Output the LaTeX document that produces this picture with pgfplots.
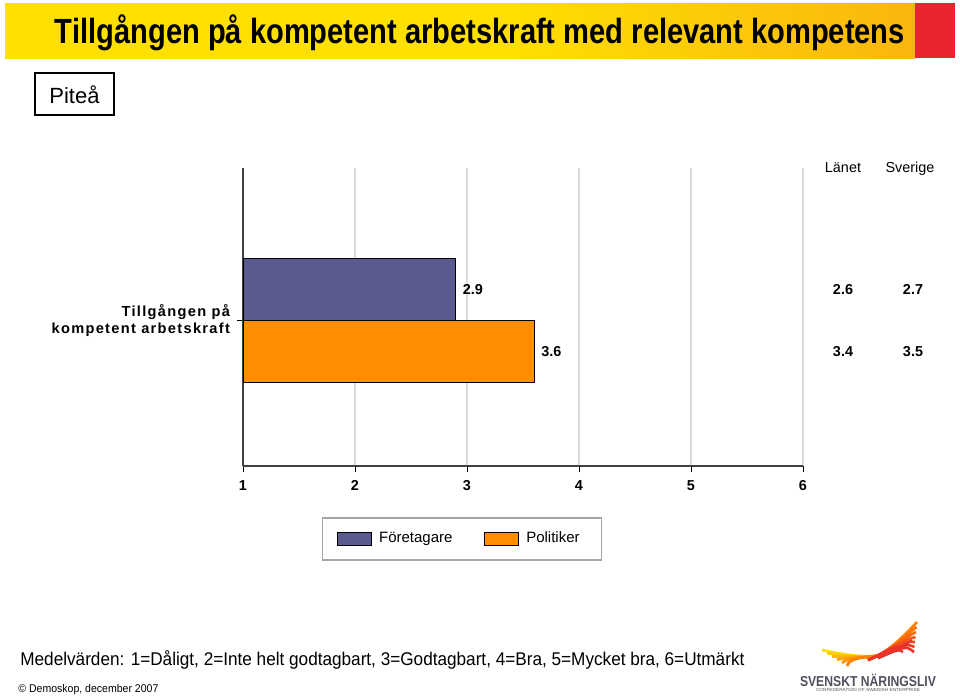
\documentclass[border=0pt]{standalone}
\usepackage{fontspec}
\setmainfont{Liberation Sans}
\newfontfamily\spaced[LetterSpace=9]{Liberation Sans}
\usepackage{graphicx}
\usepackage{pgfplots}
\pgfplotsset{compat=1.18}
\definecolor{fore}{HTML}{5B5A8E}
\definecolor{pol}{HTML}{FF8F00}
\definecolor{ylw}{HTML}{FFE000}
\definecolor{orn}{HTML}{F07A22}
\definecolor{rd}{HTML}{E82430}
\definecolor{axdark}{HTML}{404040}
\definecolor{logogrey}{HTML}{4E505E}
\pgfdeclarehorizontalshading{titlebar}{100bp}{color(0bp)=(ylw); color(52bp)=(ylw); color(72bp)=(ylw!65!orn); color(100bp)=(orn)}
\tikzset{val/.style={anchor=base, inner sep=0pt, font=\fontsize{7.2}{8}\selectfont\bfseries}}
\begin{document}
\begin{tikzpicture}
\useasboundingbox (0,0) rectangle (480pt,-349pt);
\begin{scope}[x=0.5pt,y=-0.5pt]
  % title bar
  \shade[shading=titlebar] (5,3) rectangle (915,58);
  \fill[rd] (915,3) rectangle (955,58);
  \node at (480,33) {\resizebox{425pt}{\height}{\fontsize{17.5}{20}\selectfont\bfseries Tillgången på kompetent arbetskraft med relevant kompetens}};
  % Pitea box
  \draw[line width=0.7pt] (35,73) rectangle (114,115);
  \node at (74.5,95) {\fontsize{11}{13}\selectfont Piteå};
\end{scope}
\begin{axis}[
  at={(121.5pt,-233pt)}, anchor=south west,
  scale only axis, width=280pt, height=149pt,
  xmin=1, xmax=6, ymin=-146, ymax=152,
  axis x line*=bottom, axis y line*=left,
  axis line style={-, draw=axdark, line width=1pt},
  xtick={1,2,3,4,5,6},
  ytick={0},
  yticklabels={{Tillgången på\\kompetent arbetskraft}},
  yticklabel style={align=right, font=\spaced\bfseries\fontsize{7.3}{8.5}\selectfont},
  xticklabel style={font=\bfseries\fontsize{7.2}{8}\selectfont, text height=5.3pt, text depth=0pt, yshift=-0.5pt},
  /pgf/number format/assume math mode=true,
  tick align=outside,
  major tick length=3pt,
  tick style={draw=black, line width=0.5pt},
  xmajorgrids, grid style={draw=gray!30, line width=0.6pt},
  legend style={at={(0.391,-0.245)}, anchor=center, draw=gray!70, line width=0.6pt,
    legend columns=2, font=\fontsize{7.5}{8.5}\selectfont,
    inner xsep=7.5pt, inner ysep=5pt,
    nodes={inner xsep=3.5pt},
    /tikz/every even column/.append style={column sep=12.5pt}},
  legend image code/.code={\draw[#1, draw=black, line width=0.4pt] (0pt,-3.25pt) rectangle (17pt,3.25pt);},
  nodes near coords,
  point meta=explicit symbolic,
  every node near coord/.append style={font=\bfseries\fontsize{7.2}{8}\selectfont, anchor=west, text height=5.3pt, text depth=0pt},
]
\addplot[xbar, bar width=62, bar shift=31, fill=fore, draw=black, line width=0.5pt,
  every node near coord/.append style={yshift=15.5pt}]
  coordinates {(2.9,0) [2.9]};
\addlegendentry{Företagare}
\addplot[xbar, bar width=62, bar shift=-31, fill=pol, draw=black, line width=0.5pt,
  every node near coord/.append style={yshift=-15.5pt}]
  coordinates {(3.6,0) [3.6]};
\addlegendentry{Politiker}
\end{axis}
\begin{scope}[x=0.5pt,y=-0.5pt]
  \node[anchor=base, inner sep=0pt] at (843,172) {\fontsize{7.2}{8}\selectfont Länet};
  \node[anchor=base, inner sep=0pt] at (910,172) {\fontsize{7.2}{8}\selectfont Sverige};
  \node[val] at (843,294) {2.6};
  \node[val] at (913,294) {2.7};
  \node[val] at (843,356) {3.4};
  \node[val] at (913,356) {3.5};
  % footer text
  \node[anchor=west, inner sep=0pt] at (20,660) {\resizebox{362pt}{\height}{\fontsize{9.2}{11}\selectfont Medelvärden: 1=Dåligt, 2=Inte helt godtagbart, 3=Godtagbart, 4=Bra, 5=Mycket bra, 6=Utmärkt}};
  \node[anchor=west, inner sep=0pt] at (18,690) {\resizebox{70pt}{\height}{\fontsize{5.6}{7}\selectfont © Demoskop, december 2007}};
  % logo wings
  \foreach \i in {0,...,5} {
    \pgfmathsetmacro{\c}{\i*20}
    \draw[line width=1.4pt, color=orange!\c!ylw] (822+\i*5,650+\i*3.2) .. controls (850,656) and (868,658) .. (882,655);
  }
  \foreach \i in {0,...,6} {
    \pgfmathsetmacro{\c}{\i*14}
    \draw[line width=1.3pt, color=rd!\c!orange] (868,660) .. controls (888,652) and (900,640) .. (917-\i*0.5,622+\i*5);
  }
  \foreach \i in {0,...,3} {
    \draw[line width=1.2pt, color=rd!85!orange] (878,658) .. controls (892,652) and (900,648) .. (912-\i*3,640+\i*4);
  }
  \node[inner sep=0pt] at (868,680) {\resizebox{68pt}{\height}{\fontsize{7.2}{8}\selectfont\bfseries\color{logogrey} SVENSKT NÄRINGSLIV}};
  \node[inner sep=0pt] at (868,690) {\resizebox{52pt}{\height}{\fontsize{2.2}{3}\selectfont\color{logogrey} CONFEDERATION OF SWEDISH ENTERPRISE}};
\end{scope}
\end{tikzpicture}
\end{document}
